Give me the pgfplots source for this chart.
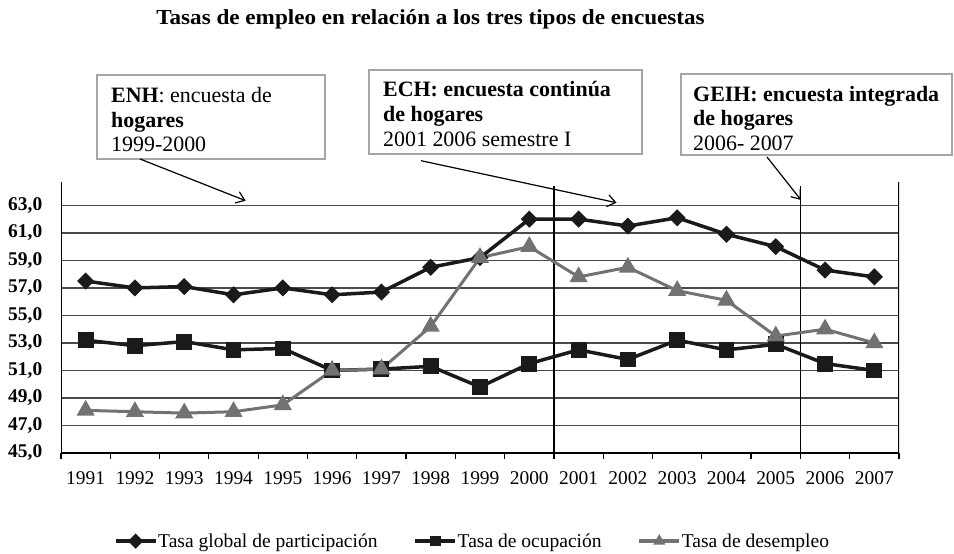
\documentclass[border=0pt]{standalone}
\usepackage{fontspec}
\setmainfont{Liberation Serif}
\usepackage{graphicx}
\usepackage{pgfplots}
\pgfplotsset{compat=1.18}
\usetikzlibrary{arrows.meta}

\definecolor{serA}{HTML}{1A1A1A}
\definecolor{serC}{HTML}{727272}
\definecolor{gridc}{HTML}{4A4A4A}
\definecolor{boxc}{HTML}{A5A5A5}

\begin{document}
\begin{tikzpicture}[x=1bp,y=1bp]
\path[use as bounding box] (0,0) rectangle (954,-554);
\fill[white] (0,0) rectangle (954,-554);

% title
\node[anchor=base, inner sep=0] at (430.5,-25)
  {\scalebox{1.08}[1]{\bfseries\fontsize{21.5}{21.5}\selectfont Tasas de empleo en relación a los tres tipos de encuestas}};

\begin{axis}[
  at={(61bp,-453bp)}, anchor=south west,
  scale only axis, width=838bp, height=271bp,
  xmin=1990.5, xmax=2007.5, ymin=45, ymax=64.7,
  axis line style={draw=none},
  ytick={45,47,...,63},
  xtick={1991,...,2007},
  minor xtick={1990.5,1991.5,...,2007.5},
  xtick pos=left,
  tick align=outside,
  every major x tick/.style={draw=none},
  every minor x tick/.style={black, line width=1.2bp},
  minor tick length=6bp,
  ytick style={draw=none},
  ymajorgrids, grid style={gridc, line width=1.4bp},
  /pgf/number format/assume math mode=true,
  yticklabel style={font=\bfseries\fontsize{19.5}{19.5}\selectfont, /pgf/number format/.cd, fixed, fixed zerofill, precision=1, use comma, /tikz/.cd, xshift=-11bp},
  xticklabel style={font=\fontsize{19.5}{19.5}\selectfont, /pgf/number format/.cd, set thousands separator={}, /tikz/.cd, yshift=-11bp},
  legend style={at={(0.4905,-0.325)}, anchor=center, draw=none, fill=none,
    legend columns=3, font=\fontsize{19.6}{19.6}\selectfont,
    /tikz/every even column/.append style={column sep=35bp},
    nodes={inner sep=1bp}},
  legend image code/.code={\draw[mark repeat=2,mark phase=2,#1] plot coordinates {(0bp,0bp) (20bp,0bp) (40bp,0bp)};},
  legend image post style={mark size=3.8bp, line width=3.2bp},
]
% frame lines and separators
\draw[black, line width=1.4bp] (axis cs:1990.5,45) -- (axis cs:2007.5,45);
\draw[black, line width=1.4bp] (axis cs:1990.5,45) -- (axis cs:1990.5,64.7);
\draw[black, line width=1.4bp] (axis cs:2007.5,45) -- (axis cs:2007.5,64.7);
\draw[black, line width=1.3bp] (axis cs:2000.5,45) -- (axis cs:2000.5,64.4);
\draw[black, line width=1.3bp] (axis cs:2005.5,45) -- (axis cs:2005.5,64.4);

\addplot[serA, line width=3.5bp, mark=square*, mark size=4.3bp, mark options={rotate=45, solid}]
coordinates {(1991,57.5) (1992,57.0) (1993,57.1) (1994,56.5) (1995,57.0) (1996,56.5) (1997,56.7) (1998,58.5) (1999,59.2) (2000,62.0) (2001,62.0) (2002,61.5) (2003,62.1) (2004,60.9) (2005,60.0) (2006,58.3) (2007,57.8)};
\addlegendentry{Tasa global de participación}

\addplot[serA, line width=3.5bp, mark=square*, mark size=6.2bp, mark options={solid}]
coordinates {(1991,53.2) (1992,52.8) (1993,53.1) (1994,52.5) (1995,52.6) (1996,51.0) (1997,51.1) (1998,51.3) (1999,49.8) (2000,51.5) (2001,52.5) (2002,51.8) (2003,53.2) (2004,52.5) (2005,52.9) (2006,51.5) (2007,51.0)};
\addlegendentry{Tasa de ocupación}

\addplot[serC, line width=3bp, mark=triangle*, mark size=7.5bp, mark options={solid}]
coordinates {(1991,48.1) (1992,48.0) (1993,47.9) (1994,48.0) (1995,48.5) (1996,51.0) (1997,51.1) (1998,54.2) (1999,59.2) (2000,60.0) (2001,57.8) (2002,58.5) (2003,56.8) (2004,56.1) (2005,53.5) (2006,54.0) (2007,53.0)};
\addlegendentry{Tasa de desempleo}
\end{axis}

% annotation boxes
\draw[boxc, line width=1.3bp] (97,-75) rectangle (325,-159);
\draw[boxc, line width=1.3bp] (369,-70) rectangle (642,-154);
\draw[boxc, line width=1.3bp] (681,-74) rectangle (952,-155);

\begin{scope}[every node/.style={anchor=base west, inner sep=0, font=\fontsize{22}{22}\selectfont}]
\node at (111,-103) {\textbf{ENH}: encuesta de};
\node at (111,-128) {\textbf{hogares}};
\node at (111,-152) {1999-2000};
\node at (383,-97) {\textbf{ECH: encuesta continúa}};
\node at (383,-122) {\textbf{de hogares}};
\node at (383,-147) {2001 2006 semestre I};
\node at (693,-102) {\textbf{GEIH: encuesta integrada}};
\node at (693,-126) {\textbf{de hogares}};
\node at (693,-151) {2006- 2007};
\end{scope}

% arrows
\draw[black, line width=1.2bp, -{Straight Barb[length=8bp, width=12bp]}] (140,-159) -- (245.6,-200.7);
\draw[black, line width=1.2bp, -{Straight Barb[length=8bp, width=12bp]}] (421,-160.7) -- (616.5,-202.7);
\draw[black, line width=1.2bp, -{Straight Barb[length=8bp, width=12bp]}] (767,-157) -- (801,-200);
\end{tikzpicture}
\end{document}
